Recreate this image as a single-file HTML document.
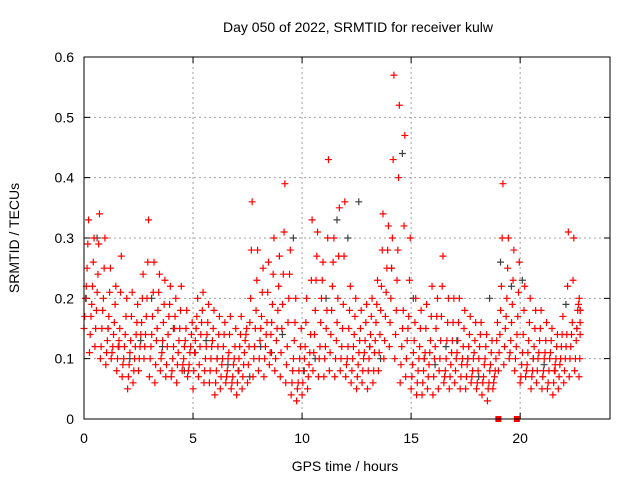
<!DOCTYPE html>
<html><head><meta charset="utf-8"><style>
body{margin:0;background:#fff}
svg{display:block;font-family:"Liberation Sans",sans-serif}
</style></head><body>
<svg id="c" width="640" height="480" viewBox="0 0 640 480"></svg>
<script>
const times=[0,0.25,0.5,0.75,1,1.25,1.5,1.75,2,2.25,2.5,2.75,3,3.25,3.5,3.75,4,4.25,4.5,4.75,5,5.25,5.5,5.75,6,6.25,6.5,6.75,7,7.25,7.5,7.75,8,8.25,8.5,8.75,9,9.25,9.5,9.75,10,10.25,10.5,10.75,11,11.25,11.5,11.75,12,12.25,12.5,12.75,13,13.25,13.5,13.75,14,14.25,14.5,14.75,15,15.25,15.5,15.75,16,16.25,16.5,16.75,17,17.25,17.5,17.75,18,18.25,18.5,18.75,19,19.25,19.5,19.75,20,20.25,20.5,20.75,21,21.25,21.5,21.75,22,22.25,22.5,22.7];
const lowVals=[.15,.11,.12,.1,.09,.1,.08,.07,.05,.06,.08,.1,.07,.06,.08,.07,.07,.06,.08,.07,.05,.07,.06,.06,.04,.05,.06,.05,.04,.05,.06,.07,.08,.07,.09,.08,.07,.06,.04,.03,.04,.05,.08,.07,.07,.08,.07,.08,.07,.06,.05,.06,.05,.06,.08,.1,.12,.1,.06,.07,.05,.04,.04,.05,.04,.05,.06,.05,.06,.05,.05,.06,.05,.04,.03,.05,.08,.09,.1,.08,.06,.07,.05,.06,.05,.05,.04,.05,.06,.07,.08,.07];
const lowerVals=[.17,.14,.15,.12,.11,.11,.1,.09,.07,.08,.1,.12,.1,.09,.1,.09,.08,.09,.09,.08,.08,.09,.08,.08,.06,.07,.07,.06,.06,.07,.09,.1,.1,.1,.11,.1,.11,.09,.06,.05,.06,.07,.11,.1,.1,.11,.1,.1,.09,.08,.07,.08,.08,.08,.11,.13,.16,.14,.09,.1,.07,.06,.06,.07,.07,.08,.07,.07,.08,.07,.07,.07,.06,.06,.05,.06,.11,.12,.11,.1,.07,.08,.07,.08,.07,.06,.06,.07,.08,.1,.1,.1];
const lowMidVals=[.2,.17,.18,.15,.13,.12,.12,.1,.09,.1,.12,.14,.12,.13,.11,.12,.1,.11,.1,.09,.11,.12,.1,.1,.08,.09,.08,.07,.08,.09,.12,.12,.13,.12,.14,.13,.15,.12,.08,.06,.08,.09,.14,.12,.12,.14,.13,.12,.1,.1,.09,.1,.1,.11,.14,.17,.2,.18,.12,.13,.09,.08,.08,.09,.1,.1,.08,.09,.1,.09,.09,.08,.08,.07,.06,.07,.14,.15,.13,.12,.09,.09,.08,.1,.08,.08,.08,.09,.1,.12,.13,.14];
const midVals=[.22,.19,.21,.18,.15,.14,.13,.12,.11,.12,.14,.17,.14,.15,.13,.14,.12,.13,.12,.11,.13,.14,.12,.12,.1,.1,.1,.09,.1,.11,.16,.15,.15,.14,.16,.15,.19,.16,.1,.08,.1,.11,.18,.16,.15,.18,.16,.15,.12,.12,.11,.11,.12,.13,.18,.21,.25,.23,.15,.15,.11,.1,.1,.11,.12,.13,.1,.11,.11,.1,.1,.1,.1,.09,.08,.08,.18,.17,.16,.14,.11,.11,.1,.11,.1,.1,.09,.1,.12,.14,.15,.16];
const highMidVals=[.25,.22,.24,.2,.17,.16,.15,.14,.13,.14,.16,.2,.17,.18,.16,.17,.15,.15,.13,.12,.15,.16,.14,.13,.12,.12,.11,.1,.12,.13,.2,.18,.17,.16,.19,.18,.24,.2,.13,.1,.12,.14,.23,.2,.18,.22,.2,.19,.15,.14,.13,.13,.14,.16,.22,.25,.3,.28,.18,.17,.13,.12,.11,.13,.15,.17,.13,.13,.13,.12,.12,.11,.12,.1,.09,.1,.22,.2,.19,.17,.14,.13,.12,.13,.11,.11,.1,.12,.14,.16,.18,.18];
const upperVals=[.29,.26,.29,.25,.21,.19,.21,.17,.17,.16,.2,.26,.21,.21,.19,.19,.17,.18,.15,.14,.17,.18,.16,.15,.14,.14,.14,.12,.14,.14,.28,.23,.21,.21,.24,.22,.31,.24,.16,.12,.16,.23,.27,.23,.3,.26,.27,.27,.18,.17,.15,.16,.17,.19,.28,.28,.43,.4,.32,.23,.16,.15,.15,.17,.17,.22,.16,.16,.16,.15,.14,.13,.14,.12,.11,.13,.3,.25,.23,.21,.18,.16,.15,.15,.13,.13,.12,.14,.22,.23,.19,.18];
const highVals=[.33,.3,.34,.3,.25,.22,.27,.2,.21,.19,.24,.33,.26,.24,.23,.22,.2,.22,.18,.16,.2,.21,.19,.18,.17,.16,.17,.15,.17,.15,.36,.28,.25,.26,.3,.27,.39,.28,.2,.15,.2,.33,.31,.26,.43,.3,.35,.36,.22,.2,.18,.19,.2,.23,.34,.32,.57,.52,.47,.3,.2,.18,.19,.22,.2,.27,.2,.2,.2,.18,.17,.16,.16,.14,.13,.16,.39,.3,.28,.26,.22,.2,.18,.18,.16,.15,.14,.17,.31,.3,.2,.18];
const grayTimes=[0,.5,1,1.5,2,2.5,3,3.5,4,4.5,5,5.5,6,6.5,7,7.5,8,8.5,9,9.5,10,10.5,11,11.5,12,12.5,13,13.5,14,14.5,15,15.5,16,16.5,17,17.5,18,18.5,19,19.5,20,20.5,21,21.5,22,22.5];
const grayVals=[.2,.3,.15,.12,.1,.13,.2,.12,.15,.08,.11,.13,.1,.09,.08,.07,.12,.11,.14,.3,.08,.1,.2,.33,.3,.36,.12,.1,.25,.44,.2,.1,.09,.12,.13,.1,.07,.2,.26,.22,.23,.1,.09,.08,.19,.15];
const xTicks=[0,5,10,15,20];
const yTicks=[0,0.1,0.2,0.3,0.4,0.5,0.6];
const zeroTimes=[19,19.85];

const L=84,R=610,T=57,B=419,XMAX=24.12,YMAX=0.6;
const sx=v=>L+v/XMAX*(R-L), sy=v=>B-v/YMAX*(B-T);
const svg=document.getElementById('c');const NS='http://www.w3.org/2000/svg';
function mk(tag,at,txt){const e=document.createElementNS(NS,tag);for(const k in at)e.setAttribute(k,at[k]);if(txt!==undefined)e.textContent=txt;svg.appendChild(e);return e;}
for(const t of yTicks){
  const y=sy(t);
  if(t>0&&t<0.6){const g=mk('line',{x1:L,x2:R,y1:y,y2:y,stroke:'#a0a0a0','stroke-dasharray':'2,3','stroke-width':1});
  
  }
  const tk=mk('path',{d:`M${L} ${y}h6M${R} ${y}h-6`,stroke:'#000'});
  
  
  const lb=mk('text',{x:L-10,y:y+5,'text-anchor':'end','font-size':14},String(t));
  
  
}
for(const t of xTicks){
  const x=sx(t);
  if(t>0){const g=mk('line',{x1:x,x2:x,y1:T,y2:B,stroke:'#a0a0a0','stroke-dasharray':'2,3','stroke-width':1});
  
  }
  const tk=mk('path',{d:`M${x} ${B}v-6M${x} ${T}v6`,stroke:'#000'});
  
  
  const lb=mk('text',{x:x,y:B+24,'text-anchor':'middle','font-size':14},String(t));
  
  
}
function plus(t,v,col,name){
  const x=sx(t),y=sy(v);
  const p=mk('path',{d:`M${x-3.5} ${y}h7M${x} ${y-3.5}v7`,stroke:col,'stroke-width':1.2,fill:'none'});
  
  
}
grayTimes.forEach((t,i)=>plus(t+0.1,grayVals[i],'#404040','gray-point'));
const series=[lowVals,lowerVals,lowMidVals,midVals,highMidVals,upperVals,highVals];
series.forEach((arr,k)=>times.forEach((t,i)=>{if(i<arr.length)plus(Math.min(t+k*0.035,22.75),arr[i],'#ff0000','red-point');}));
zeroTimes.forEach(t=>{const r=mk('rect',{x:sx(t)-3,y:B-3,width:6,height:6,fill:'#ff0000'});

});
const fr=mk('rect',{x:L,y:T,width:R-L,height:B-T,fill:'none',stroke:'#000','stroke-width':1});


const ti=mk('text',{x:358,y:32,'text-anchor':'middle','font-size':14},'Day 050 of 2022, SRMTID for receiver kulw');


const xl=mk('text',{x:345,y:471,'text-anchor':'middle','font-size':14},'GPS time / hours');


const yl=mk('text',{x:0,y:0,'text-anchor':'middle','font-size':14,transform:'translate(19,238) rotate(-90)'},'SRMTID / TECUs');


</script>
</body></html>
